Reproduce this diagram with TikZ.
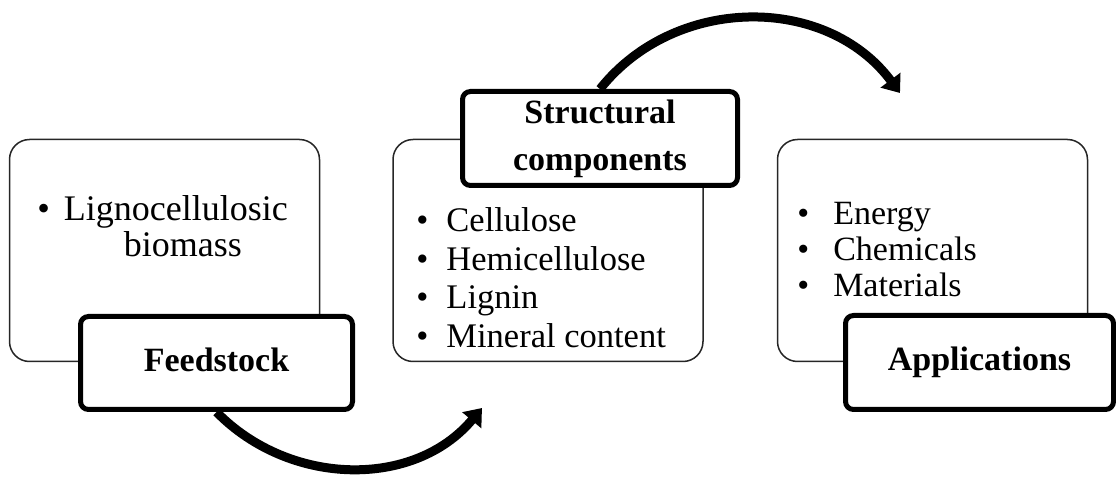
\documentclass[tikz,border=0pt]{standalone}
\usepackage{fontspec}
\setmainfont{Liberation Serif}
\usetikzlibrary{arrows.meta}
\begin{document}
\begin{tikzpicture}[x=0.5pt,y=-0.5pt,
  panel/.style={draw=black!85, line width=0.75pt, rounded corners=10pt, fill=white,
    minimum width=155pt, minimum height=111pt, inner sep=0pt},
  tag/.style={draw=black, line width=2.5pt, rounded corners=4pt, fill=white,
    minimum height=46.5pt, inner sep=0pt, align=center,
    font=\fontsize{17}{23.5}\selectfont\bfseries},
  tagone/.style={tag, text height=11.8pt, text depth=3.7pt},
  flow/.style={line width=4.5pt, -{Triangle[length=8pt,width=12pt]}},
  items/.style={anchor=base west, inner sep=0pt}
]
\useasboundingbox (0,0) rectangle (1116,481);
% content panels
\node[panel] (p1) at (164.5,250.5) {};
\node[panel] (p2) at (548,250.5) {};
\node[panel] (p3) at (932.5,250.5) {};
% panel texts
\node[items, font=\fontsize{18}{18}\selectfont] (t1) at (37,221)
  {\textbullet\hspace{7pt}\begin{tabular}[t]{@{}c@{}}Lignocellulosic\\\hspace*{7pt}biomass\end{tabular}};
\node[items, font=\fontsize{17.25}{19.25}\selectfont] (t2) at (416,232)
  {\begin{tabular}[t]{@{}l@{\hspace{9pt}}l@{}}\textbullet&Cellulose\\ \textbullet&Hemicellulose\\ \textbullet&Lignin\\ \textbullet&Mineral content\end{tabular}};
\node[items, font=\fontsize{17}{18}\selectfont] (t3) at (797,225)
  {\begin{tabular}[t]{@{}l@{\hspace{12pt}}l@{}}\textbullet&Energy\\ \textbullet&Chemicals\\ \textbullet&Materials\end{tabular}};
% labels
\node[tagone, minimum width=136pt] (l1) at (216.5,363) {Feedstock};
\node[tag, minimum width=137.5pt, minimum height=47pt] (l2) at (600,138.5) {Structural\\components};
\node[tagone, minimum width=134pt, minimum height=47pt] (l3) at (979.5,362.5) {Applications};
% arrows
\coordinate (e1) at (482,408);
\coordinate (e2) at (900,93);
\draw[flow] (l1.south) .. controls (289.5,486.5) and (414,489) .. (e1);
\draw[flow] (l2.north) .. controls (675,-5.5) and (826.4,-5.9) .. (e2);
\end{tikzpicture}
\end{document}
